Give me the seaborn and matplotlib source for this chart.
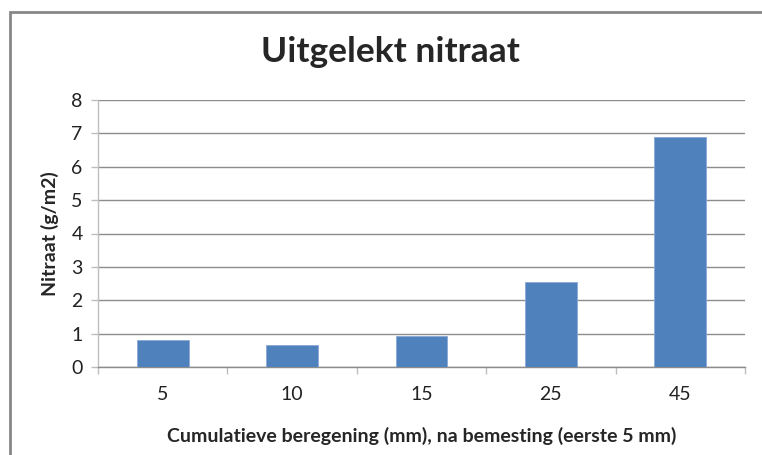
import numpy as np
import pandas as pd
import seaborn as sns
import matplotlib.pyplot as plt
from matplotlib.patches import Rectangle

# data
categories = ["5", "10", "15", "25", "45"]
nitraat = [0.81, 0.66, 0.93, 2.54, 6.90]

df = pd.DataFrame({"beregening": categories, "nitraat": nitraat})

sns.set_theme(style="white")
plt.rcParams["font.family"] = ["Lato", "DejaVu Sans"]

fig = plt.figure(figsize=(7.62, 4.55), dpi=100)
ax = fig.add_axes([98 / 762, 1 - 367 / 455, (745 - 98) / 762, (367 - 100) / 455])

sns.barplot(data=df, x="beregening", y="nitraat", order=categories,
            color="#4F81BD", saturation=1, width=0.4, ax=ax,
            edgecolor="#8AA9D6", linewidth=0.6, zorder=3)

# axes styling, Excel look
ax.set_ylim(0, 8)
ax.set_xlim(-0.5, len(categories) - 0.5)
ax.set_yticks(range(0, 9))
ax.yaxis.grid(True, color="#8C8C8C", linewidth=1.0, zorder=0)
for s in ["top", "right"]:
    ax.spines[s].set_visible(False)
ax.spines["left"].set_color("#BEBEBE")
ax.spines["bottom"].set_color("#8C8C8C")
ax.spines["left"].set_linewidth(1.0)
ax.spines["bottom"].set_linewidth(1.0)

ax.tick_params(axis="y", which="major", length=5, color="#BEBEBE", width=1.0,
               labelsize=14, labelcolor="#222222", pad=6, left=True)
ax.tick_params(axis="x", which="major", length=0, labelsize=14,
               labelcolor="#222222", pad=14)
ax.set_xticks(np.arange(-0.5, len(categories)), minor=True)
ax.tick_params(axis="x", which="minor", length=5, color="#BEBEBE", width=1.0,
               bottom=True)

ax.set_ylabel("Nitraat (g/m2)", fontsize=14, fontweight="bold", labelpad=9)
ax.set_xlabel("Cumulatieve beregening (mm), na bemesting (eerste 5 mm)",
              fontsize=14, fontweight="bold", labelpad=17)

fig.text(390 / 762, 1 - 52 / 455, "Uitgelekt nitraat", ha="center",
         va="center", fontsize=25.5, fontweight="bold")

# chart border
fig.patches.append(Rectangle((10 / 762, -0.05), 1.2, 1 - 12 / 455 + 0.05,
                             transform=fig.transFigure, fill=False,
                             edgecolor="#878787", linewidth=2))

fig.savefig("out.png", dpi=100)
